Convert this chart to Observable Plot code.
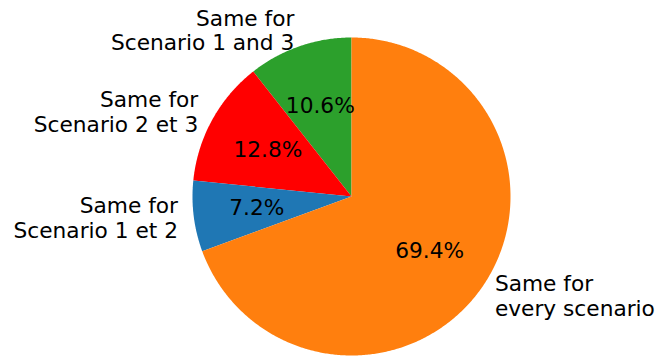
<!DOCTYPE html>
<html>
<head>
<meta charset="utf-8">
<script src="https://cdn.jsdelivr.net/npm/d3@7"></script>
<script src="https://cdn.jsdelivr.net/npm/@observablehq/plot@0.6"></script>
<style>
  html, body { margin: 0; padding: 0; background: #fff; }
</style>
</head>
<body>
<div id="chart"></div>
<script>
// Data (order: counterclockwise from 12 o'clock, as drawn)
const labels = [
  "Same for\nScenario 1 and 3",
  "Same for\nScenario 2 et 3",
  "Same for\nScenario 1 et 2",
  "Same for\nevery scenario"
];
const shares = [10.6, 12.8, 7.2, 69.4];
const colors = ["#2ca02c", "#ff0000", "#1f77b4", "#ff7f0e"];

// Build wedges (angles in degrees, counterclockwise, starting at 90°)
const total = d3.sum(shares);
let start = 90;
const slices = shares.map((v, i) => {
  const sweep = v / total * 360;
  const s = {key: i, label: labels[i], pct: v.toFixed(1) + "%", color: colors[i], a0: start, a1: start + sweep, mid: start + sweep / 2};
  start += sweep;
  return s;
});
const rad = (a) => a * Math.PI / 180;
const wedgePts = [];
for (const s of slices) {
  wedgePts.push({key: s.key, color: s.color, x: 0, y: 0});
  const n = Math.max(2, Math.ceil((s.a1 - s.a0) / 0.5));
  for (let k = 0; k <= n; k++) {
    const a = rad(s.a0 + (s.a1 - s.a0) * k / n);
    wedgePts.push({key: s.key, color: s.color, x: Math.cos(a), y: Math.sin(a)});
  }
  wedgePts.push({key: s.key, color: s.color, x: 0, y: 0});
}
const outerLabels = slices.map(s => ({
  text: s.label,
  x: 1.1 * Math.cos(rad(s.mid)),
  y: 1.1 * Math.sin(rad(s.mid)),
  anchor: Math.cos(rad(s.mid)) < 0 ? "end" : "start"
}));
const pctLabels = slices.map(s => ({
  text: s.pct,
  x: 0.6 * Math.cos(rad(s.mid)),
  y: 0.6 * Math.sin(rad(s.mid))
}));

const FS = 21.7;
const LH = 1.14;
const chart = Plot.plot({
  width: 657,
  height: 358,
  margin: 0,
  style: {fontFamily: "DejaVu Sans", fontSize: FS + "px", background: "#fff", color: "#000"},
  x: {domain: [-1, 1], range: [192, 510], axis: null},
  y: {domain: [-1, 1], range: [355, 37], axis: null},
  color: {type: "identity"},
  marks: [
    Plot.line(wedgePts, {x: "x", y: "y", z: "key", fill: "color", stroke: "none", curve: "linear"}),
    Plot.text(pctLabels, {x: "x", y: "y", text: "text", textAnchor: "middle", fill: "#000", fontSize: FS}),
    Plot.text(outerLabels.filter(d => d.anchor === "end"), {x: "x", y: "y", text: "text", textAnchor: "end", lineAnchor: "middle", lineHeight: LH, dy: -1, fill: "#000", fontSize: FS}),
    Plot.text(outerLabels.filter(d => d.anchor === "start"), {x: "x", y: "y", text: "text", textAnchor: "start", lineAnchor: "middle", lineHeight: LH, dy: -1, fill: "#000", fontSize: FS})
  ]
});
document.getElementById("chart").appendChild(chart);
</script>
</body>
</html>
